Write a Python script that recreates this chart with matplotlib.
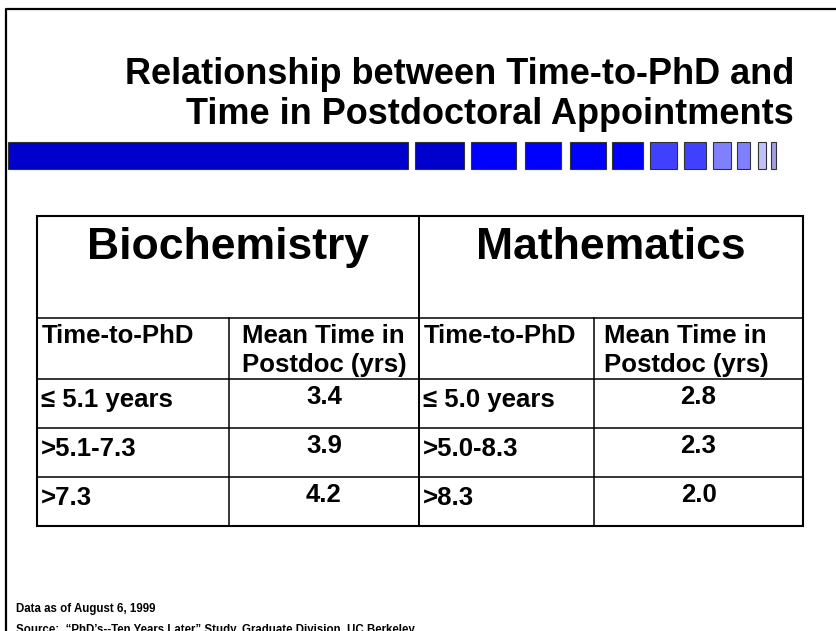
import matplotlib
matplotlib.use("Agg")
import matplotlib.pyplot as plt
from matplotlib.patches import Rectangle

# ---- data ----
title_lines = ["Relationship between Time-to-PhD and", "Time in Postdoctoral Appointments"]
fields = ["Biochemistry", "Mathematics"]
sub_headers = ["Time-to-PhD", "Mean Time in\nPostdoc (yrs)"]
bio_bins = ["\u2264 5.1 years", ">5.1-7.3", ">7.3"]
bio_values = [3.4, 3.9, 4.2]
math_bins = ["\u2264 5.0 years", ">5.0-8.3", ">8.3"]
math_values = [2.8, 2.3, 2.0]
footer_lines = ["Data as of August 6, 1999",
                "Source:  \u201cPhD\u2019s--Ten Years Later\u201d Study, Graduate Division, UC Berkeley"]

# decorative bar segments (x0, x1, color)
bar_segments = [
    (8, 408, "#0000CC"), (415, 464, "#0000CC"), (471, 516, "#0000FF"),
    (525, 561, "#0000FF"), (570, 606, "#0000FF"), (612, 643, "#0000FF"),
    (650, 677, "#4040FF"), (684, 706, "#4040FF"), (713, 731, "#8080FF"),
    (737, 750, "#8080FF"), (758, 766, "#C0C0FF"), (771, 776, "#A0A0E0"),
]

W, H = 836, 631
fig = plt.figure(figsize=(W / 100, H / 100), dpi=100)
ax = fig.add_axes([0, 0, 1, 1])
ax.set_xlim(0, W)
ax.set_ylim(H, 0)
ax.axis("off")

FONT = ["Liberation Sans", "DejaVu Sans"]

# slide frame
ax.plot([5.5, 5.5, W], [H, 9, 9], color="black", lw=1.6, solid_capstyle="butt")

# title
ax.text(794, 84, title_lines[0], ha="right", va="baseline", fontsize=26,
        fontweight="bold", family=FONT)
ax.text(794, 124, title_lines[1], ha="right", va="baseline", fontsize=26,
        fontweight="bold", family=FONT)

# decorative bar
for x0, x1, c in bar_segments:
    ax.add_patch(Rectangle((x0, 142), x1 - x0, 27, facecolor=c,
                           edgecolor="#333333", lw=0.8))

# table geometry
col_x = [37, 229, 419, 594, 803]
row_y = [216, 318, 379, 428, 477, 526]

lc = "black"
# horizontal lines
for y in row_y[1:-1]:
    ax.plot([col_x[0], col_x[-1]], [y, y], color=lc, lw=1.1)
# middle vertical (full height)
ax.plot([col_x[2], col_x[2]], [row_y[0], row_y[-1]], color=lc, lw=1.4)
# inner verticals (below header)
for x in (col_x[1], col_x[3]):
    ax.plot([x, x], [row_y[1], row_y[-1]], color=lc, lw=1.1)
# outer border
ax.add_patch(Rectangle((col_x[0], row_y[0]), col_x[-1] - col_x[0], row_y[-1] - row_y[0],
                       fill=False, edgecolor=lc, lw=1.5))

# field headers
for i, f in enumerate(fields):
    cx = (col_x[2 * i] + col_x[2 * i + 2]) / 2
    ax.text(cx, 259, f, ha="center", va="baseline", fontsize=32,
            fontweight="bold", family=FONT)

# sub-headers
mean_offsets = [13, 10]
for i in range(2):
    ax.text(col_x[2 * i] + 5, 343, sub_headers[0], ha="left", va="baseline",
            fontsize=18.5, fontweight="bold", family=FONT)
    l1, l2 = sub_headers[1].split("\n")
    x = col_x[2 * i + 1] + mean_offsets[i]
    ax.text(x, 343, l1, ha="left", va="baseline", fontsize=18.5,
            fontweight="bold", family=FONT)
    ax.text(x, 372, l2, ha="left", va="baseline", fontsize=18.5,
            fontweight="bold", family=FONT)

# data rows
for bins, vals, k in ((bio_bins, bio_values, 0), (math_bins, math_values, 2)):
    for r, (b, v) in enumerate(zip(bins, vals)):
        base = row_y[2 + r] + 28
        ax.text(col_x[k] + 4, base, b, ha="left", va="baseline", fontsize=18.5,
                fontweight="bold", family=FONT)
        cx = (col_x[k + 1] + col_x[k + 2]) / 2
        ax.text(cx, base - 3, f"{v:.1f}", ha="center", va="baseline", fontsize=18.5,
                fontweight="bold", family=FONT)

# footer
ax.text(16, 612, footer_lines[0], ha="left", va="baseline", fontsize=8.3,
        fontweight="bold", family=FONT)
ax.text(16, 633, footer_lines[1], ha="left", va="baseline", fontsize=8.3,
        fontweight="bold", family=FONT)

fig.savefig("out.png", dpi=100, facecolor="white")
